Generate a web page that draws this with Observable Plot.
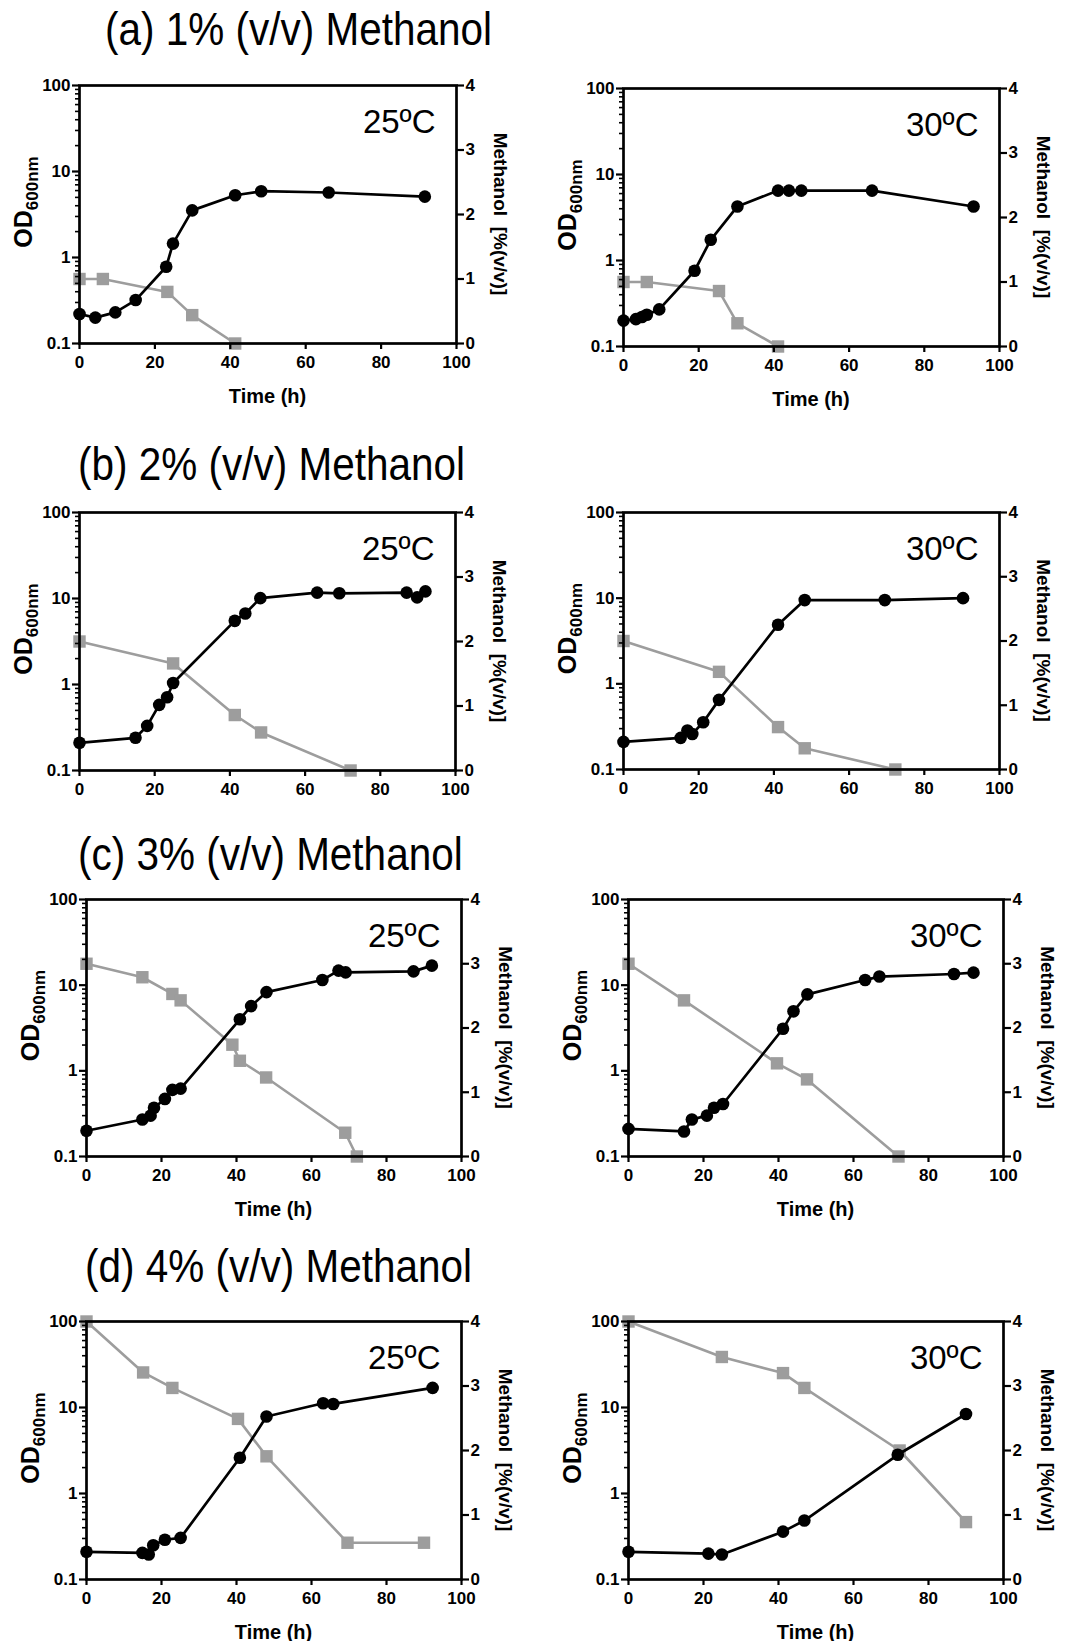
<!DOCTYPE html>
<html><head><meta charset="utf-8">
<script src="https://cdn.jsdelivr.net/npm/d3@7"></script>
<script src="https://cdn.jsdelivr.net/npm/@observablehq/plot@0.6"></script>
<style>
html,body{margin:0;padding:0;background:#fff;}
body{width:1079px;height:1641px;position:relative;overflow:hidden;font-family:"Liberation Sans",Arial,sans-serif;}
.title{position:absolute;font-size:46px;line-height:46px;white-space:nowrap;transform:scaleX(0.88);transform-origin:0 0;color:#000;}
.panel{position:absolute;width:540px;}
.panel svg{position:absolute;left:0;top:0;}
</style></head><body>
<script>
// ---------- data ----------
const titles = ["(a) 1% (v/v) Methanol", "(b) 2% (v/v) Methanol", "(c) 3% (v/v) Methanol", "(d) 4% (v/v) Methanol"];
const temps = ["25ºC", "30ºC"];
const xTicks = [0, 20, 40, 60, 80, 100];
const odTicks = [0.1, 1, 10, 100];
const odMinorTicks = [0.2,0.3,0.4,0.5,0.6,0.7,0.8,0.9,2,3,4,5,6,7,8,9,20,30,40,50,60,70,80,90];
const meTicks = [0, 1, 2, 3, 4];

// (a) 1% methanol
const a25_odTime = [0, 4.2, 9.5, 14.9, 23, 24.8, 29.9, 41.3, 48.2, 66.1, 91.6];
const a25_od     = [0.22, 0.20, 0.23, 0.32, 0.78, 1.45, 3.53, 5.3, 5.9, 5.7, 5.1];
const a25_meTime = [0, 6.2, 23.3, 29.9, 41.3];
const a25_me     = [1.0, 1.0, 0.8, 0.44, 0];

const a30_odTime = [0, 3.3, 4.9, 6.2, 9.5, 18.9, 23.2, 30.3, 41.1, 44, 47.3, 66.1, 93.1];
const a30_od     = [0.20, 0.208, 0.22, 0.234, 0.27, 0.76, 1.74, 4.25, 6.5, 6.5, 6.5, 6.5, 4.25];
const a30_meTime = [0, 6.2, 25.4, 30.3, 41.1];
const a30_me     = [1.0, 1.0, 0.86, 0.36, 0];

// (b) 2% methanol
const b25_odTime = [0, 14.9, 18.0, 21.2, 23.3, 24.9, 41.3, 44.1, 48.1, 63.2, 69.1, 87.0, 89.8, 92.0];
const b25_od     = [0.21, 0.24, 0.33, 0.58, 0.71, 1.04, 5.5, 6.7, 10.1, 11.7, 11.5, 11.7, 10.3, 12.1];
const b25_meTime = [0, 24.9, 41.3, 48.3, 72.1];
const b25_me     = [2.0, 1.66, 0.86, 0.59, 0];

const b30_odTime = [0, 15.2, 17.0, 18.3, 21.2, 25.4, 41.1, 48.2, 69.5, 90.3];
const b30_od     = [0.21, 0.234, 0.285, 0.26, 0.356, 0.65, 4.9, 9.5, 9.5, 10.0];
const b30_meTime = [0, 25.4, 41.1, 48.2, 72.3];
const b30_me     = [2.0, 1.52, 0.66, 0.33, 0];

// (c) 3% methanol
const c25_odTime = [0, 14.9, 17.1, 18.0, 20.9, 22.9, 25.1, 40.9, 43.9, 48.0, 62.9, 67.2, 69.1, 87.2, 92.1];
const c25_od     = [0.2, 0.27, 0.30, 0.37, 0.47, 0.6, 0.62, 4.0, 5.7, 8.3, 11.5, 14.8, 14.1, 14.5, 16.9];
const c25_meTime = [0, 14.9, 22.9, 25.1, 38.9, 40.9, 47.9, 69.0, 72.1];
const c25_me     = [3.0, 2.79, 2.53, 2.43, 1.74, 1.49, 1.23, 0.37, 0];

const c30_odTime = [0, 14.8, 16.9, 20.9, 22.8, 25.2, 41.2, 44.0, 47.7, 63.1, 66.9, 86.8, 92.0];
const c30_od     = [0.21, 0.196, 0.27, 0.30, 0.37, 0.41, 3.1, 4.95, 7.8, 11.5, 12.6, 13.5, 14.0];
const c30_meTime = [0, 14.8, 39.6, 47.6, 72];
const c30_me     = [3.0, 2.43, 1.45, 1.2, 0];

// (d) 4% methanol
const d25_odTime = [0, 14.9, 16.6, 17.8, 20.9, 25.1, 40.9, 48.0, 63.1, 65.8, 92.3];
const d25_od     = [0.21, 0.204, 0.195, 0.25, 0.29, 0.305, 2.6, 7.85, 11.2, 11.0, 16.9];
const d25_meTime = [0, 15.1, 22.9, 40.4, 48.0, 69.6, 90.0];
const d25_me     = [4.0, 3.21, 2.97, 2.49, 1.91, 0.57, 0.57];

const d30_odTime = [0, 21.3, 24.9, 41.2, 46.9, 71.8, 90.0];
const d30_od     = [0.21, 0.20, 0.195, 0.36, 0.485, 2.82, 8.4];
const d30_meTime = [0, 24.9, 41.2, 46.9, 72.3, 90.0];
const d30_me     = [4.0, 3.45, 3.2, 2.97, 2.0, 0.89];

// ---------- layout / style ----------
const FONT = "'Liberation Sans', Arial, Helvetica, sans-serif";
const GRAY = "#9d9d9d";
const titlePos = [{x: 105, base: 45}, {x: 78, base: 480}, {x: 78, base: 870}, {x: 85, base: 1282}];
const panels = [
  {left: 0,   fx: 79,  fy: 85,   fw: 377, fh: 258, time: true,  temp: temps[0], odT: a25_odTime, od: a25_od, meT: a25_meTime, me: a25_me},
  {left: 540, fx: 623, fy: 88,   fw: 376, fh: 258, time: true,  temp: temps[1], odT: a30_odTime, od: a30_od, meT: a30_meTime, me: a30_me},
  {left: 0,   fx: 79,  fy: 512,  fw: 376, fh: 258, time: false, temp: temps[0], odT: b25_odTime, od: b25_od, meT: b25_meTime, me: b25_me},
  {left: 540, fx: 623, fy: 512,  fw: 376, fh: 257, time: false, temp: temps[1], odT: b30_odTime, od: b30_od, meT: b30_meTime, me: b30_me},
  {left: 0,   fx: 86,  fy: 899,  fw: 375, fh: 257, time: true,  temp: temps[0], odT: c25_odTime, od: c25_od, meT: c25_meTime, me: c25_me},
  {left: 540, fx: 628, fy: 899,  fw: 375, fh: 257, time: true,  temp: temps[1], odT: c30_odTime, od: c30_od, meT: c30_meTime, me: c30_me},
  {left: 0,   fx: 86,  fy: 1321, fw: 375, fh: 258, time: true,  temp: temps[0], odT: d25_odTime, od: d25_od, meT: d25_meTime, me: d25_me},
  {left: 540, fx: 628, fy: 1321, fw: 375, fh: 258, time: true,  temp: temps[1], odT: d30_odTime, od: d30_od, meT: d30_meTime, me: d30_me}
];

titles.forEach((t, i) => {
  const el = document.createElement("div");
  el.className = "title";
  el.textContent = t;
  el.style.left = titlePos[i].x + "px";
  el.style.top = (titlePos[i].base - 39) + "px";
  document.body.appendChild(el);
});

function drawPanel(p) {
  const mt = 20, mb = 80;
  const ml = p.fx - p.left, mr = 540 - ml - p.fw;
  const H = p.fh + mt + mb;
  const div = document.createElement("div");
  div.className = "panel";
  div.style.left = p.left + "px";
  div.style.top = (p.fy - mt) + "px";
  div.style.height = H + "px";
  document.body.appendChild(div);

  const common = {
    width: 540, height: H, marginLeft: ml, marginRight: mr, marginTop: mt, marginBottom: mb,
    style: {background: "transparent", overflow: "visible", fontFamily: FONT, fontSize: "17px", fontWeight: "bold", color: "black"}
  };
  const odData = p.odT.map((t, i) => ({t, v: p.od[i]}));
  const meData = p.meT.map((t, i) => ({t, v: p.me[i]}));

  const mePlot = Plot.plot({
    ...common,
    x: {domain: [0, 100], axis: null},
    y: {domain: [0, 4], axis: null},
    marks: [
      Plot.axisY({anchor: "right", ticks: meTicks, tickSize: 7, tickPadding: 2, strokeWidth: 2.2, label: null, tickFormat: d => String(d)}),
      Plot.line(meData, {x: "t", y: "v", stroke: GRAY, strokeWidth: 2.6}),
      Plot.dot(meData, {x: "t", y: "v", symbol: "square", r: 7, fill: GRAY, stroke: "none"})
    ]
  });

  const odPlot = Plot.plot({
    ...common,
    x: {domain: [0, 100]},
    y: {type: "log", domain: [0.1, 100]},
    marks: [
      Plot.axisX({ticks: xTicks, tickSize: 6, tickPadding: 6, strokeWidth: 2.2, label: null, tickFormat: d => String(d)}),
      Plot.axisY({ticks: odMinorTicks, tickSize: 4, strokeWidth: 1.6, label: null, tickFormat: () => ""}),
      Plot.axisY({ticks: odTicks, tickSize: 7, tickPadding: 2, strokeWidth: 2.2, label: null, tickFormat: d => String(d)}),
      Plot.frame({stroke: "black", strokeWidth: 2.7}),
      Plot.line(odData, {x: "t", y: "v", stroke: "black", strokeWidth: 2.7}),
      Plot.dot(odData, {x: "t", y: "v", r: 6.3, fill: "black", stroke: "none"}),
      Plot.text([p.temp], {frameAnchor: "top-right", text: d => d, dx: -21, dy: 24, lineAnchor: "top", fontSize: 33, fontWeight: "normal", fill: "black"})
    ]
  });

  div.appendChild(mePlot);
  div.appendChild(odPlot);

  const svg = d3.select(odPlot);
  // left axis label OD600nm
  const od = svg.append("text")
    .attr("transform", `translate(${ml - 47},${mt + p.fh / 2 - 12}) rotate(-90)`)
    .attr("text-anchor", "middle")
    .attr("font-family", FONT).attr("font-weight", "bold").attr("fill", "black");
  od.append("tspan").attr("font-size", 25).text("OD");
  od.append("tspan").attr("font-size", 17).attr("dy", 6).text("600nm");
  // right axis label
  svg.append("text")
    .attr("transform", `translate(${ml + p.fw + 38},${mt + p.fh / 2}) rotate(90)`)
    .attr("text-anchor", "middle")
    .attr("font-family", FONT).attr("font-weight", "bold").attr("font-size", 19).attr("fill", "black")
    .style("white-space", "pre")
    .text("Methanol  [%(v/v)]");
  if (p.time) {
    svg.append("text")
      .attr("x", ml + p.fw / 2).attr("y", mt + p.fh + 60)
      .attr("text-anchor", "middle")
      .attr("font-family", FONT).attr("font-weight", "bold").attr("font-size", 20).attr("fill", "black")
      .text("Time (h)");
  }
}

panels.forEach(drawPanel);
</script></body></html>
